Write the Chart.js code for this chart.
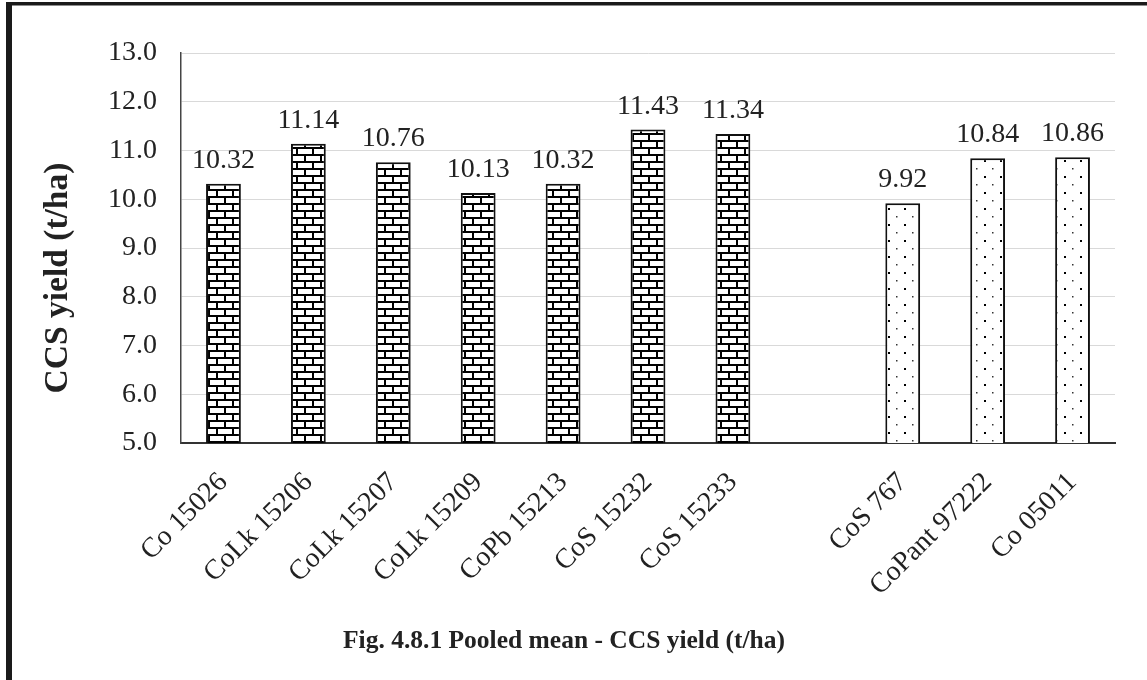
<!DOCTYPE html>
<html><head><meta charset="utf-8">
<script src="https://cdn.jsdelivr.net/npm/chart.js@4.4.1/dist/chart.umd.min.js"></script>
<style>html,body{margin:0;padding:0;background:#fff}#wrap{position:relative;width:1147px;height:680px}</style>
</head><body><div id="wrap"><canvas id="c" width="1147" height="680"></canvas></div>
<script>
const categories = ['Co 15026','CoLk 15206','CoLk 15207','CoLk 15209','CoPb 15213','CoS 15232','CoS 15233','','CoS 767','CoPant 97222','Co 05011'];
const entryValues = [10.32,11.14,10.76,10.13,10.32,11.43,11.34,null,null,null,null];
const checkValues = [null,null,null,null,null,null,null,null,9.92,10.84,10.86];
const yTickValues = [5,6,7,8,9,10,11,12,13];
const yTitle = 'CCS yield (t/ha)';
const figTitle = 'Fig. 4.8.1 Pooled mean - CCS yield (t/ha)';

const SERIF = '"Liberation Serif", "Times New Roman", serif';

function brickPattern(ctx){
  const t = document.createElement('canvas'); t.width = 16; t.height = 14;
  const g = t.getContext('2d');
  g.fillStyle = '#fff'; g.fillRect(0,0,16,14);
  g.fillStyle = '#000';
  g.fillRect(0,0,16,2); g.fillRect(0,7,16,2);
  g.fillRect(0,0,2,7); g.fillRect(8,7,2,7);
  return ctx.createPattern(t,'repeat');
}
function dotPattern(ctx){
  const t = document.createElement('canvas'); t.width = 16; t.height = 16;
  const g = t.getContext('2d');
  g.fillStyle = '#fff'; g.fillRect(0,0,16,16);
  g.fillStyle = '#000'; g.fillRect(8,0,2,2);
  g.fillStyle = '#333'; g.fillRect(0,8,1.5,1.5);
  return ctx.createPattern(t,'repeat');
}

const ctx = document.getElementById('c').getContext('2d');

const frame = {
  id: 'frame',
  beforeDraw(chart){
    const c = chart.ctx; c.save();
    c.fillStyle = '#fff'; c.fillRect(0,0,chart.width,chart.height);
    c.fillStyle = '#1a1a1a';
    c.fillRect(6,2,chart.width-6,3.5);
    c.fillRect(6,2,6,chart.height-2);
    c.restore();
  }
};
const texts = {
  id: 'texts',
  afterDraw(chart){
    const c = chart.ctx; c.save();
    c.fillStyle = '#222'; c.textAlign = 'center'; c.textBaseline = 'middle';
    c.font = 'bold 25.5px ' + SERIF;
    c.fillText(figTitle, 564, 641);
    c.font = 'bold 33.5px ' + SERIF;
    c.translate(58, 278); c.rotate(-Math.PI/2);
    c.fillText(yTitle, 0, 0);
    c.restore();
  }
};
const valueLabels = {
  id: 'valueLabels',
  afterDatasetsDraw(chart){
    const c = chart.ctx; c.save();
    c.font = '28px ' + SERIF; c.fillStyle = '#222';
    c.textAlign = 'center'; c.textBaseline = 'alphabetic';
    chart.data.datasets.forEach((ds,i)=>{
      const meta = chart.getDatasetMeta(i);
      meta.data.forEach((el,j)=>{
        const v = ds.data[j];
        if (v === null || v === undefined) return;
        c.fillText(v.toFixed(2), el.x, el.y - 16);
      });
    });
    c.restore();
  }
};

new Chart(ctx, {
  type: 'bar',
  data: {
    labels: categories,
    datasets: [
      { label: 'Entries', data: entryValues, backgroundColor: brickPattern(ctx), borderColor: '#111', borderWidth: 2, borderSkipped: 'bottom', grouped: false, barPercentage: 0.41, categoryPercentage: 1 },
      { label: 'Checks', data: checkValues, backgroundColor: dotPattern(ctx), borderColor: '#111', borderWidth: 2, borderSkipped: 'bottom', grouped: false, barPercentage: 0.41, categoryPercentage: 1 }
    ]
  },
  options: {
    responsive: false, animation: false,
    layout: { padding: { top: 53, right: 32, left: 0, bottom: 60 } },
    plugins: { legend: { display: false }, tooltip: { enabled: false }, title: { display: false } },
    scales: {
      x: {
        grid: { display: true, color: 'transparent', drawTicks: false },
        border: { display: true, color: '#333', width: 2 },
        ticks: { color: '#222', font: { family: SERIF, size: 28 }, minRotation: 45, maxRotation: 45, autoSkip: false, padding: 23 },
        afterFit(s){ s.height = 680 - 60 - 443; }
      },
      y: {
        min: 5, max: 13,
        afterBuildTicks(s){ s.ticks = yTickValues.map(v=>({value:v})); },
        grid: { color: '#d9d9d9', lineWidth: 1, drawTicks: false },
        border: { display: true, color: '#444', width: 1.5 },
        ticks: { color: '#222', font: { family: SERIF, size: 28 }, padding: 24, callback: v => Number(v).toFixed(1) },
        title: { display: false },
        afterFit(s){ s.width = 181; }
      }
    }
  },
  plugins: [frame, texts, valueLabels]
});
</script></body></html>
